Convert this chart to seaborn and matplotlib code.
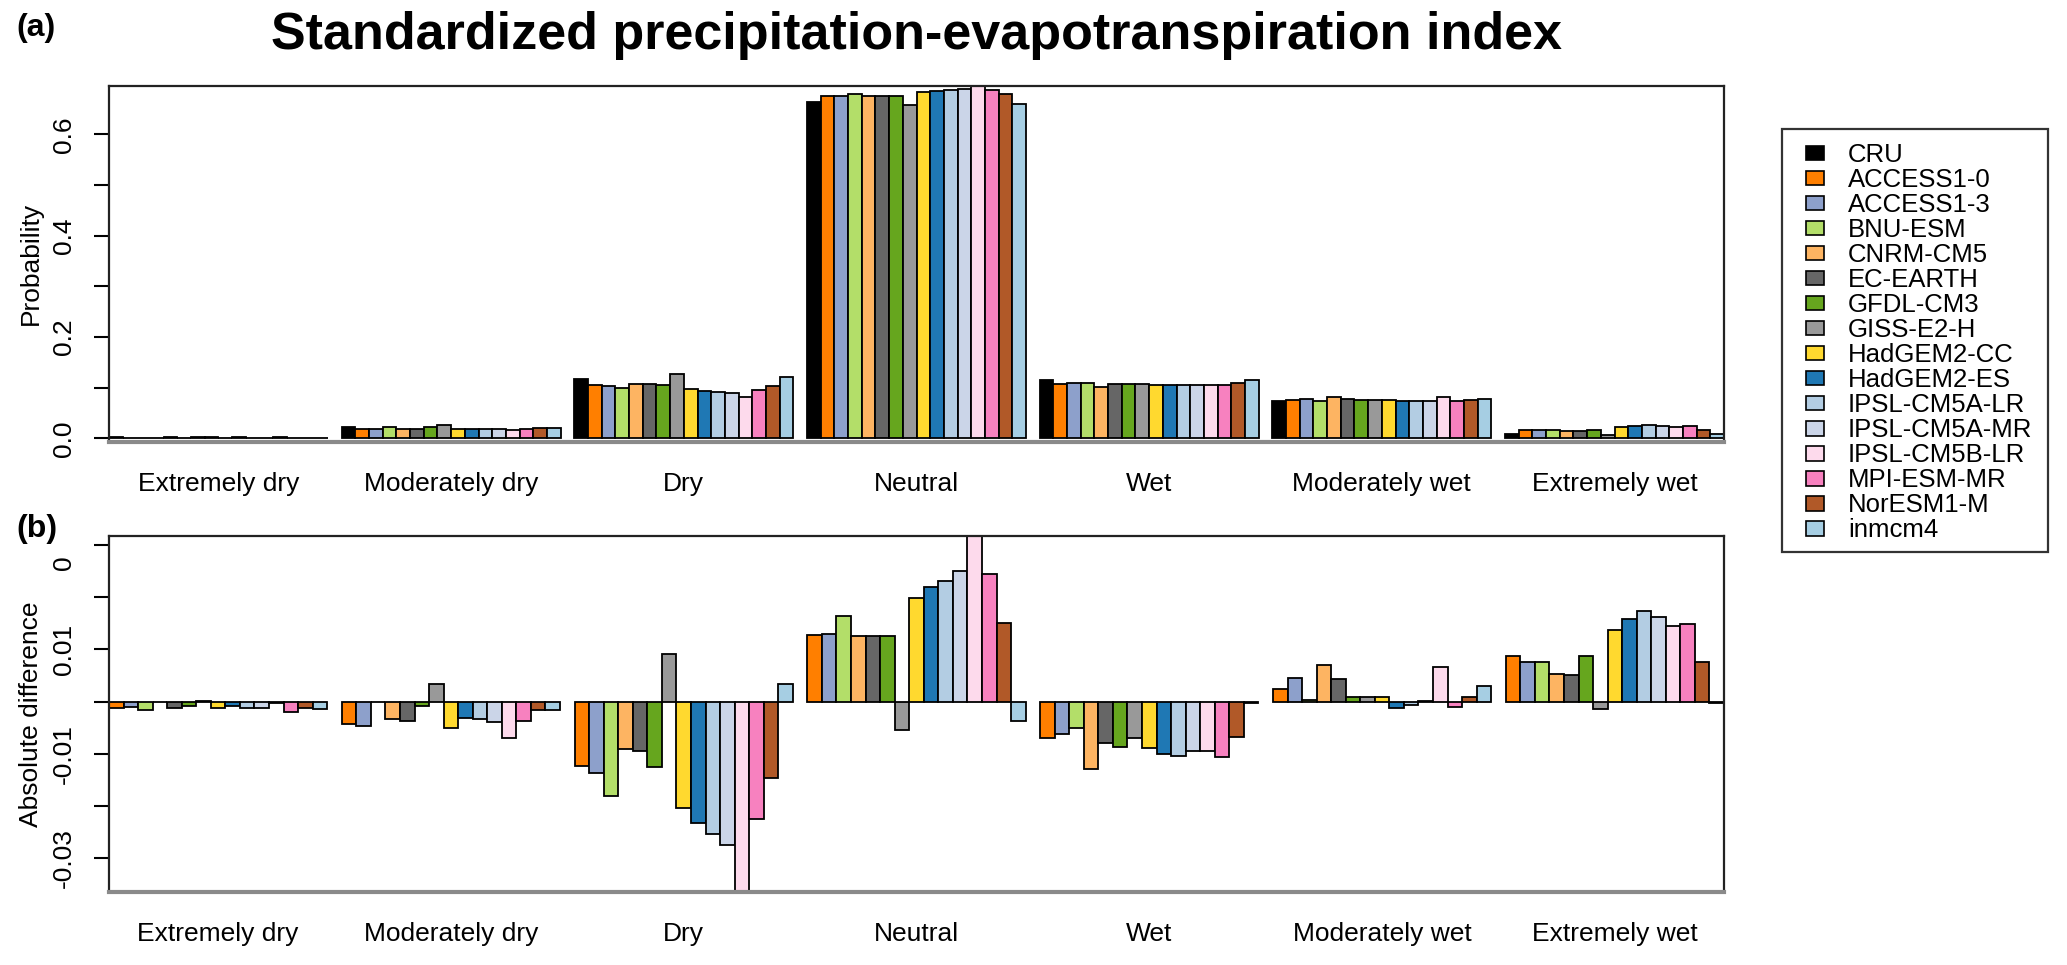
import pandas as pd
import seaborn as sns
import matplotlib.pyplot as plt
from matplotlib.patches import Patch, Rectangle
from matplotlib.transforms import Bbox, TransformedBbox

plt.rcParams['font.family'] = ['Liberation Sans', 'DejaVu Sans']

categories = ['Extremely dry', 'Moderately dry', 'Dry', 'Neutral', 'Wet',
              'Moderately wet', 'Extremely wet']
models = ['CRU', 'ACCESS1-0', 'ACCESS1-3', 'BNU-ESM', 'CNRM-CM5', 'EC-EARTH',
          'GFDL-CM3', 'GISS-E2-H', 'HadGEM2-CC', 'HadGEM2-ES', 'IPSL-CM5A-LR',
          'IPSL-CM5A-MR', 'IPSL-CM5B-LR', 'MPI-ESM-MR', 'NorESM1-M', 'inmcm4']
colors = ['#000000', '#FF7F00', '#8DA0CB', '#B3DE69', '#FDB462', '#666666',
          '#66A61E', '#999999', '#FFD92F', '#1F78B4', '#B3CDE3', '#CBD5E8',
          '#FDDAEC', '#F781BF', '#B15928', '#A6CEE3']

# (a) probability of each class, CRU first then the models
prob_extremely_dry = [0.0025, 0.0012, 0.0015, 0.0008, 0.0025, 0.0012, 0.0017, 0.0027,
                      0.0012, 0.0017, 0.0012, 0.0012, 0.0022, 0.0005, 0.0012, 0.0011]
prob_moderately_dry = [0.0225, 0.0183, 0.0178, 0.0225, 0.0192, 0.0187, 0.0217, 0.0258,
                       0.0175, 0.0193, 0.0191, 0.0185, 0.0155, 0.0188, 0.0209, 0.0209]
prob_dry = [0.1170, 0.1047, 0.1033, 0.0990, 0.1079, 0.1075, 0.1045, 0.1261,
            0.0967, 0.0937, 0.0916, 0.0895, 0.0806, 0.0945, 0.1024, 0.1203]
prob_neutral = [0.6640, 0.6768, 0.6769, 0.6803, 0.6765, 0.6766, 0.6766, 0.6586,
                0.6838, 0.6860, 0.6870, 0.6890, 0.6957, 0.6884, 0.6790, 0.6603]
prob_wet = [0.1150, 0.1080, 0.1088, 0.1100, 0.1020, 0.1071, 0.1063, 0.1080,
            0.1061, 0.1050, 0.1046, 0.1055, 0.1055, 0.1043, 0.1083, 0.1148]
prob_moderately_wet = [0.0740, 0.0764, 0.0786, 0.0743, 0.0810, 0.0783, 0.0748, 0.0748,
                       0.0748, 0.0727, 0.0734, 0.0741, 0.0806, 0.0729, 0.0748, 0.0770]
prob_extremely_wet = [0.0085, 0.0172, 0.0160, 0.0160, 0.0138, 0.0135, 0.0172, 0.0071,
                      0.0222, 0.0243, 0.0259, 0.0247, 0.0230, 0.0234, 0.0160, 0.0082]

# (b) model minus CRU
diff_extremely_dry = [-0.0013, -0.0010, -0.0017, 0.0000, -0.0013, -0.0008, 0.0002, -0.0013,
                      -0.0008, -0.0013, -0.0013, -0.0003, -0.0020, -0.0013, -0.0014]
diff_moderately_dry = [-0.0042, -0.0047, 0.0000, -0.0033, -0.0038, -0.0008, 0.0033, -0.0050,
                       -0.0032, -0.0034, -0.0040, -0.0070, -0.0037, -0.0016, -0.0016]
diff_dry = [-0.0123, -0.0137, -0.0180, -0.0091, -0.0095, -0.0125, 0.0091, -0.0203,
            -0.0233, -0.0254, -0.0275, -0.0364, -0.0225, -0.0146, 0.0033]
diff_neutral = [0.0128, 0.0129, 0.0163, 0.0125, 0.0126, 0.0126, -0.0054, 0.0198,
                0.0220, 0.0230, 0.0250, 0.0317, 0.0244, 0.0150, -0.0037]
diff_wet = [-0.0070, -0.0062, -0.0050, -0.0130, -0.0079, -0.0087, -0.0070, -0.0089,
            -0.0100, -0.0104, -0.0095, -0.0095, -0.0107, -0.0067, -0.0002]
diff_moderately_wet = [0.0024, 0.0046, 0.0003, 0.0070, 0.0043, 0.0008, 0.0008, 0.0008,
                       -0.0013, -0.0006, 0.0001, 0.0066, -0.0011, 0.0008, 0.0030]
diff_extremely_wet = [0.0087, 0.0075, 0.0075, 0.0053, 0.0050, 0.0087, -0.0014, 0.0137,
                      0.0158, 0.0174, 0.0162, 0.0145, 0.0149, 0.0075, -0.0003]

prob = [prob_extremely_dry, prob_moderately_dry, prob_dry, prob_neutral,
        prob_wet, prob_moderately_wet, prob_extremely_wet]
diff = [diff_extremely_dry, diff_moderately_dry, diff_dry, diff_neutral,
        diff_wet, diff_moderately_wet, diff_extremely_wet]

df_prob = pd.DataFrame([(c, m, v) for c, vals in zip(categories, prob)
                        for m, v in zip(models, vals)],
                       columns=['category', 'model', 'value'])
df_diff = pd.DataFrame([(c, m, v) for c, vals in zip(categories, diff)
                        for m, v in zip(models[1:], vals)],
                       columns=['category', 'model', 'value'])
palette = dict(zip(models, colors))

W, H = 2067, 965
fs = 19
fig = plt.figure(figsize=(W / 100, H / 100), dpi=100)
ax1 = fig.add_axes([109 / W, 1 - 441.7 / H, 1615 / W, 355.7 / H])
ax2 = fig.add_axes([109 / W, 1 - 891.7 / H, 1615 / W, 355.7 / H])

sns.barplot(data=df_prob, x='category', y='value', hue='model', order=categories,
            hue_order=models, palette=palette, width=16 / 17, gap=0, saturation=1,
            edgecolor='black', linewidth=1.3, errorbar=None, legend=False, ax=ax1)
sns.barplot(data=df_diff, x='category', y='value', hue='model', order=categories,
            hue_order=models[1:], palette=palette, width=15 / 16, gap=0, saturation=1,
            edgecolor='black', linewidth=1.3, errorbar=None, legend=False, ax=ax2)

ax1.set_xlim(-8 / 17, 6 + 8 / 17)
ax2.set_xlim(-15 / 32, 6 + 15 / 32)
ax1.set_ylim(-0.0067, df_prob['value'].max())
ax2.set_ylim(df_diff['value'].min(), df_diff['value'].max())

ax1.set_yticks([0, 0.1, 0.2, 0.3, 0.4, 0.5, 0.6],
               ['0.0', '', '0.2', '', '0.4', '', '0.6'])
ax2.set_yticks([-0.03, -0.02, -0.01, 0, 0.01, 0.02, 0.03],
               ['-0.03', '', '-0.01', '', '0.01', '', '0.03'])

for ax, lab in [(ax1, 'Probability'), (ax2, 'Absolute difference')]:
    ax.set_xlabel('')
    ax.set_ylabel(lab, fontsize=fs)
    ax.yaxis.set_label_coords(-0.0407, 0.5)
    ax.tick_params(axis='x', length=0, pad=21.5, labelsize=fs)
    ax.tick_params(axis='y', length=10.8, width=1.5, pad=12.7, labelsize=fs,
                   labelrotation=90)
    for t in ax.get_yticklabels():
        t.set_va('center')
        t.set_ha('right')
    for s in ['left', 'top', 'right']:
        ax.spines[s].set_color('#222222')
        ax.spines[s].set_linewidth(1.6)
    ax.spines['bottom'].set_color('#8a8a8a')
    ax.spines['bottom'].set_linewidth(3)

# the top of the "0.03" label is cut off in the original figure
clip = TransformedBbox(Bbox([[0, 0], [1, 1 - 557 / H]]), fig.transFigure)
for t in ax2.get_yticklabels():
    if t.get_text() == '0.03':
        t.set_clip_box(clip)
        t.set_clip_on(True)

fig.text(916.5 / W, 1 - 36 / H, 'Standardized precipitation-evapotranspiration index',
         fontsize=37.5, fontweight='bold', ha='center', va='center')
fig.text(16 / W, 1 - 28 / H, '(a)', fontsize=23, fontweight='bold', ha='left', va='center')
fig.text(16 / W, 1 - 529 / H, '(b)', fontsize=23, fontweight='bold', ha='left', va='center')

handles = [Patch(facecolor=c, edgecolor='black', linewidth=1.2) for c in colors]
fig.legend(handles, models, loc='upper left', bbox_to_anchor=(1806 / W, 1 - 143 / H),
           frameon=False, fontsize=18.5, handlelength=0.70, handleheight=0.5,
           handletextpad=0.93, labelspacing=0.04, borderpad=0, borderaxespad=0)
fig.add_artist(Rectangle((1782 / W, 1 - 552 / H), 266 / W, 423 / H,
                         transform=fig.transFigure, fill=False,
                         edgecolor='#333333', linewidth=1.6))

fig.savefig('out.png', dpi=100)
